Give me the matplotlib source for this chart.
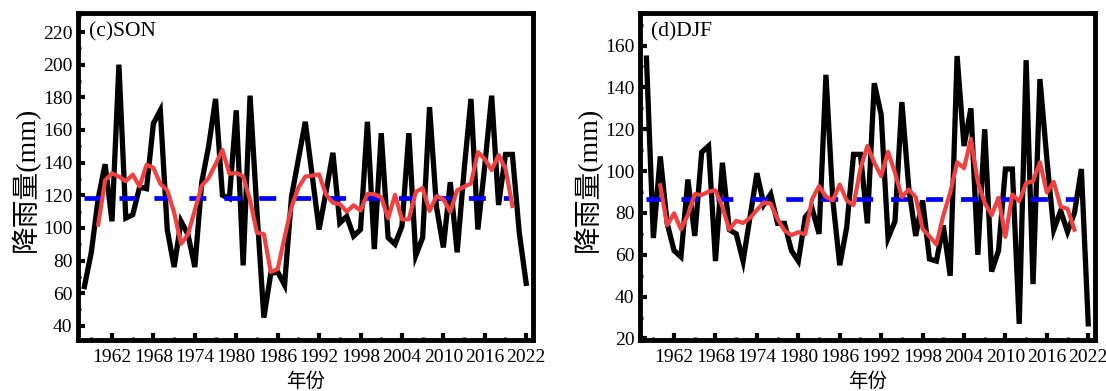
import matplotlib
matplotlib.use("Agg")
import matplotlib.pyplot as plt
from matplotlib.ticker import MultipleLocator


years = list(range(1958, 2023))
smooth_years = list(range(1960, 2021))

son_rain = [
    64, 85, 118, 139, 104, 200, 106, 108, 125, 124,
    164, 172, 99, 76, 104, 96, 76, 128, 150, 179,
    120, 118, 172, 77, 181, 110, 45, 72, 73, 65,
    119, 142, 165, 132, 99, 122, 146, 103, 107, 95,
    99, 165, 87, 158, 94, 90, 101, 158, 83, 94,
    174, 113, 88, 128, 85, 135, 179, 99, 138, 181,
    114, 145, 145, 97, 66,
]
son_smooth = [
    102.0, 129.2, 133.4, 131.4, 128.6, 132.6, 125.4, 138.6, 136.8, 127.0,
    123.0, 109.4, 90.2, 96.0, 110.8, 125.8, 130.6, 139.0, 147.8, 133.2,
    133.6, 131.6, 117.0, 97.0, 96.2, 73.0, 74.8, 94.2, 112.8, 124.6,
    131.4, 132.0, 132.8, 120.4, 115.4, 114.6, 110.0, 113.8, 110.6, 120.8,
    120.6, 118.8, 106.0, 120.2, 105.2, 105.2, 122.0, 124.4, 110.4, 119.4,
    117.6, 109.8, 123.0, 125.2, 127.2, 146.4, 142.2, 135.4, 144.6, 136.4,
    113.4,
]
son_mean = 118.5

djf_rain = [
    154, 68, 107, 75, 62, 59, 96, 69, 109, 112,
    57, 104, 72, 70, 57, 78, 99, 84, 89, 75,
    75, 62, 57, 78, 82, 70, 146, 86, 55, 73,
    108, 108, 75, 142, 127, 68, 76, 133, 92, 69,
    86, 58, 57, 74, 50, 155, 112, 130, 60, 120,
    52, 62, 101, 101, 27, 153, 46, 144, 106, 72,
    81, 71, 80, 101, 27,
]
djf_smooth = [
    93.2, 74.2, 79.8, 72.2, 79.0, 89.0, 88.6, 90.2, 90.8, 83.0,
    72.0, 76.2, 75.2, 77.6, 81.4, 85.0, 84.4, 77.0, 71.6, 69.4,
    70.8, 69.8, 86.6, 92.8, 87.8, 86.0, 93.6, 86.0, 83.8, 101.2,
    112.0, 104.0, 97.6, 109.2, 99.2, 87.6, 91.2, 87.6, 72.4, 68.8,
    65.0, 78.8, 89.6, 104.2, 101.4, 115.4, 94.8, 84.8, 79.0, 87.2,
    68.6, 88.8, 85.6, 94.2, 95.2, 104.2, 89.8, 94.8, 83.0, 82.0,
    72.0,
]
djf_mean = 86.5

panels = [
    ("(c)SON", son_rain, son_smooth, son_mean, (31.2, 231.7), 0.0705),
    ("(d)DJF", djf_rain, djf_smooth, djf_mean, (19.2, 175.6), 0.5787),
]

SERIF = ["Liberation Serif", "Noto Sans CJK SC"]


def draw_panel(fig, title, rain, smooth, mean, ylim, left):
    ax = fig.add_axes([left, 0.130, 0.4115, 0.837])

    ax.plot(years, rain, color="black", lw=3.8, solid_joinstyle="miter", zorder=2)
    ax.plot([years[0], smooth_years[-1]], [mean, mean], color="#0000ff", lw=3.4,
            linestyle=(0, (3.6, 3.8)), dash_capstyle="butt", zorder=3)
    ax.plot(smooth_years, smooth, color="#f04040", lw=3.0, zorder=4)

    ax.set_xlim(1957.07, 2023.0)
    ax.set_ylim(*ylim)
    ax.xaxis.set_minor_locator(MultipleLocator(3))
    ax.yaxis.set_major_locator(MultipleLocator(20))
    ax.yaxis.set_minor_locator(MultipleLocator(10))
    ax.set_xticks(list(range(1962, 2023, 6)))

    ax.tick_params(which="major", direction="in", length=5, width=3,
                   labelsize=14, top=False, right=False)
    ax.tick_params(which="minor", direction="in", length=2.5, width=2,
                   top=False, right=False)
    ax.tick_params(axis="x", which="major", pad=6)
    ax.tick_params(axis="y", which="major", pad=4)
    for lab in ax.get_xticklabels() + ax.get_yticklabels():
        lab.set_family(SERIF)

    for spine in ax.spines.values():
        spine.set_linewidth(3.5)

    ax.text(0.024, 0.942, title, transform=ax.transAxes, fontsize=15.5,
            family=SERIF, va="center", ha="left")

    ax.set_ylabel("降雨量(mm)", fontsize=20, family=SERIF)
    ax.yaxis.set_label_coords(-0.116, 0.49)
    ax.set_xlabel("年份", fontsize=14, family=SERIF)
    ax.xaxis.set_label_coords(0.5, -0.1)
    ax.xaxis.label.set_va("top")
    ax.yaxis.label.set_va("center")
    return ax


def main():
    fig = plt.figure(figsize=(11.06, 3.91), dpi=100)
    for title, rain, smooth, mean, ylim, left in panels:
        draw_panel(fig, title, rain, smooth, mean, ylim, left)
    fig.savefig("out.png", dpi=100)
    plt.close(fig)


if __name__ == "__main__":
    main()
